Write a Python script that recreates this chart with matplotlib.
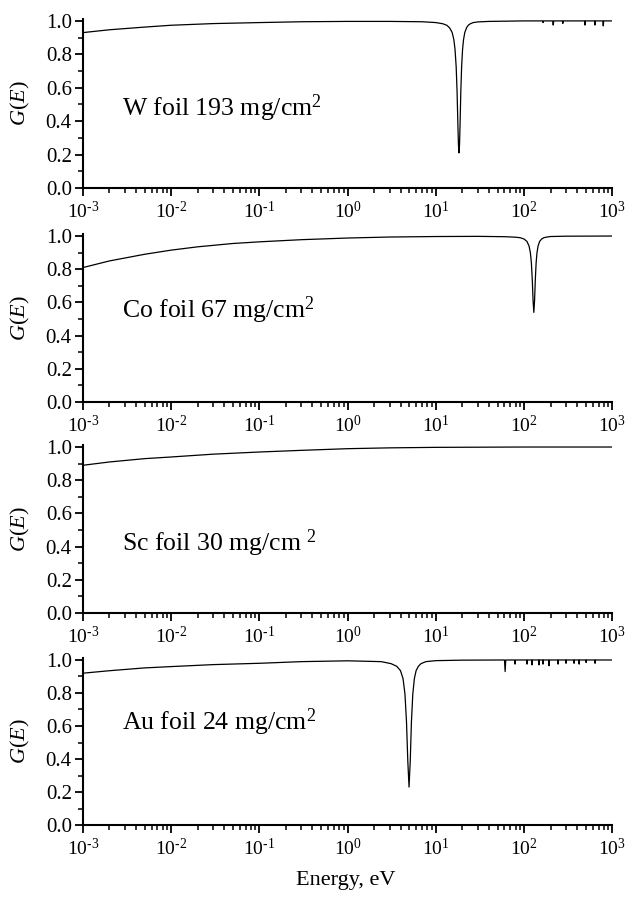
import matplotlib
matplotlib.use("Agg")
import matplotlib.pyplot as plt
import matplotlib.ticker as ticker

plt.rcParams['font.family'] = ['Liberation Serif', 'DejaVu Serif']
plt.rcParams['mathtext.fontset'] = 'custom'
plt.rcParams['mathtext.rm'] = 'Liberation Serif'
plt.rcParams['mathtext.it'] = 'Liberation Serif:italic'

# W foil
w_energy = [1e-3, 2e-3, 5e-3, 1e-2, 3e-2, 0.1, 0.3, 1, 3, 7, 10, 12, 13.3, 14.3, 15.3, 16.0, 16.5,
            17.0, 17.4, 17.8, 18.05, 18.3, 18.55, 18.8, 19.2, 19.6, 20.1, 20.6, 21.3, 22.3, 23.3,
            24.6, 26.6, 30, 40, 100, 162, 164, 166, 211, 214, 217, 272, 275, 278,
            485, 490, 495, 629, 635, 641, 782, 790, 798, 1000]
w_g = [0.93, 0.947, 0.963, 0.974, 0.984, 0.99, 0.995, 0.997, 0.997, 0.995, 0.99, 0.983, 0.974,
       0.959, 0.931, 0.888, 0.83, 0.726, 0.58, 0.371, 0.255, 0.21, 0.255, 0.371, 0.58, 0.726,
       0.83, 0.888, 0.931, 0.959, 0.974, 0.983, 0.99, 0.994, 0.997, 1.0,
       1.0, 0.99, 1.0, 1.0, 0.975, 1.0, 1.0, 0.985, 1.0, 1.0, 0.975, 1.0, 1.0, 0.975, 1.0,
       1.0, 0.97, 1.0, 1.0]

# Co foil
co_energy = [1e-3, 2e-3, 5e-3, 1e-2, 2e-2, 5e-2, 0.1, 0.3, 1, 3, 10, 30, 60, 80, 90, 100, 108,
             114, 118, 121, 124, 126.5, 129, 131.5, 134, 137, 140, 144, 150, 158, 168, 178, 199,
             300, 1000]
co_g = [0.81, 0.85, 0.89, 0.915, 0.935, 0.955, 0.965, 0.978, 0.988, 0.994, 0.997, 0.998, 0.996,
        0.993, 0.99, 0.982, 0.967, 0.939, 0.898, 0.839, 0.733, 0.61, 0.54, 0.61, 0.733, 0.839,
        0.898, 0.939, 0.967, 0.982, 0.99, 0.993, 0.997, 0.999, 1.0]

# Sc foil
sc_energy = [1e-3, 2e-3, 5e-3, 1e-2, 3e-2, 0.1, 0.3, 1, 3, 10, 100, 1000]
sc_g = [0.89, 0.91, 0.93, 0.94, 0.957, 0.97, 0.98, 0.99, 0.995, 0.998, 1.0, 1.0]

# Au foil
au_energy = [1e-3, 2e-3, 5e-3, 1e-2, 3e-2, 0.1, 0.3, 1, 2.4, 3.1, 3.6, 3.97, 4.25, 4.47, 4.65,
             4.81, 4.97, 5.13, 5.29, 5.48, 5.71, 5.98, 6.35, 6.8, 7.7, 10, 20,
             60, 61, 62, 78, 79, 80, 107, 108, 109, 122, 123, 124, 147, 148, 149, 163, 164, 165,
             190, 192, 194, 241, 243, 245, 297, 299, 301, 366, 369, 372, 418, 421, 424,
             501, 505, 509, 633, 638, 643, 1000]
au_g = [0.92, 0.935, 0.952, 0.96, 0.972, 0.98, 0.99, 0.995, 0.99, 0.978, 0.962, 0.936, 0.887,
        0.792, 0.626, 0.39, 0.23, 0.39, 0.626, 0.792, 0.887, 0.936, 0.962, 0.978, 0.99, 0.996,
        0.999,
        1.0, 0.93, 1.0, 1.0, 0.975, 1.0, 1.0, 0.975, 1.0, 1.0, 0.97, 1.0, 1.0, 0.97, 1.0, 1.0,
        0.975, 1.0, 1.0, 0.965, 1.0, 1.0, 0.975, 1.0, 1.0, 0.98, 1.0, 1.0, 0.98, 1.0, 1.0, 0.975,
        1.0, 1.0, 0.985, 1.0, 1.0, 0.98, 1.0, 1.0]

x_ticks = [1e-3, 1e-2, 1e-1, 1e0, 1e1, 1e2, 1e3]
x_ticklabels = [r'$10^{\text{-}3}$', r'$10^{\text{-}2}$', r'$10^{\text{-}1}$', r'$10^{0}$',
                r'$10^{1}$', r'$10^{2}$', r'$10^{3}$']

panels = [
    (w_energy, w_g, 'W foil 193 mg/cm$^2$', 0.48),
    (co_energy, co_g, 'Co foil 67 mg/cm$^2$', 0.55),
    (sc_energy, sc_g, 'Sc foil 30 mg/cm $^2$', 0.42),
    (au_energy, au_g, 'Au foil 24 mg/cm$^{2}$', 0.62),
]

# axes bottoms / heights in figure fraction
boxes = [(0.7909, 0.1877), (0.5528, 0.1865), (0.3181, 0.1865), (0.0823, 0.1854)]

fig = plt.figure(figsize=(6.28, 8.99), dpi=100)
left, width = 0.132, 0.843

for (en, g, label, ty), (b, h) in zip(panels, boxes):
    ax = fig.add_axes([left, b, width, h])
    ax.plot(en, g, color='black', lw=0.9)
    ax.set_xscale('log')
    ax.set_xlim(1e-3, 1e3)
    ax.set_ylim(0, 1.01)
    ax.spines['top'].set_visible(False)
    ax.spines['right'].set_visible(False)
    ax.spines['left'].set_linewidth(1.5)
    ax.spines['bottom'].set_linewidth(1.5)
    ax.yaxis.set_major_locator(ticker.MultipleLocator(0.2))
    ax.yaxis.set_minor_locator(ticker.MultipleLocator(0.1))
    ax.yaxis.set_major_formatter(ticker.FormatStrFormatter('%.1f'))
    ax.set_xticks(x_ticks)
    ax.set_xticklabels(x_ticklabels)
    ax.xaxis.set_minor_locator(ticker.LogLocator(base=10, subs=range(2, 10), numticks=20))
    ax.xaxis.set_minor_formatter(ticker.NullFormatter())
    ax.tick_params(which='major', direction='out', length=6, width=1.3)
    ax.tick_params(which='minor', direction='out', length=3.5, width=1.1)
    ax.tick_params(axis='y', which='major', labelsize=15, pad=2)
    ax.tick_params(axis='x', which='major', labelsize=14, pad=3)
    ax.set_ylabel('$G(E)$', fontsize=16)
    ax.yaxis.set_label_coords(-0.097, 0.5)
    ax.text(2.8e-3, ty, label, fontsize=18.5, va='center', ha='left')

fig.text(0.55, 0.021, 'Energy, eV', fontsize=16, ha='center', va='center')

fig.savefig('out.png', dpi=100)
